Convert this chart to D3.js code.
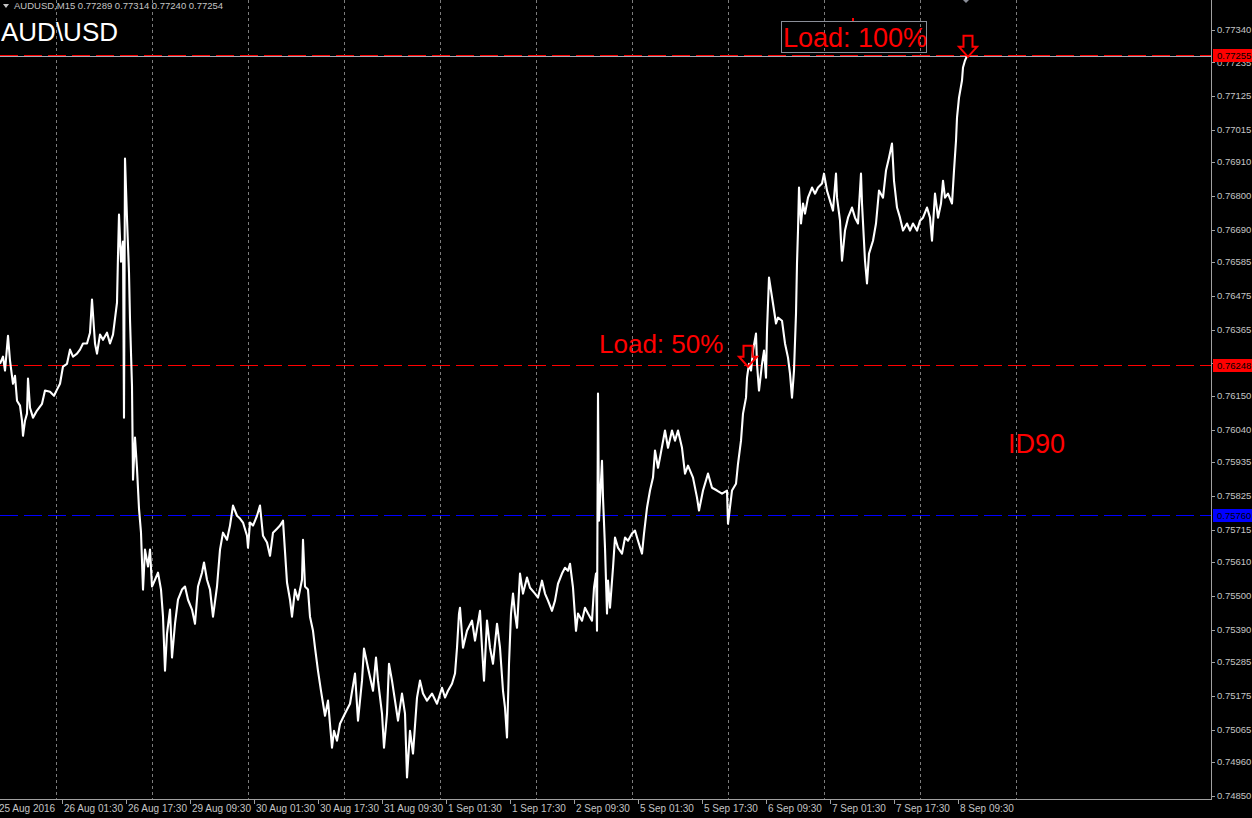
<!DOCTYPE html>
<html>
<head>
<meta charset="utf-8">
<script src="https://cdn.jsdelivr.net/npm/d3@7"></script>
<style>
  body { margin: 0; background: #000; }
  svg { display: block; }
  .ticklbl { font-family: "Liberation Sans", Arial, sans-serif; font-size: 9.5px; fill: #c4c4c4; }
  .timelbl { font-family: "Liberation Sans", Arial, sans-serif; font-size: 10px; fill: #c4c4c4; }
  .big { font-family: "Liberation Sans", Arial, sans-serif; }
</style>
</head>
<body>
<div id="chart"></div>
<script>
// AUDUSD M15 close prices, [bar index, close]
var closes = [[0,0.76254],[3,0.76277],[5,0.76232],[8,0.76345],[10,0.76264],[13,0.76189],[15,0.76215],[17,0.76134],[20,0.76118],[22,0.76069],[23,0.76020],[25,0.76069],[27,0.76092],[28,0.76206],[30,0.76111],[33,0.76079],[37,0.76102],[42,0.76124],[45,0.76167],[50,0.76163],[54,0.76150],[57,0.76170],[60,0.76189],[63,0.76245],[67,0.76254],[70,0.76300],[73,0.76277],[77,0.76287],[80,0.76300],[83,0.76320],[87,0.76320],[90,0.76355],[92,0.76463],[95,0.76320],[97,0.76287],[100,0.76349],[103,0.76332],[107,0.76355],[110,0.76320],[113,0.76349],[117,0.76453],[118,0.76606],[119,0.76739],[121,0.76586],[123,0.76651],[124,0.76079],[125,0.76921],[127,0.76726],[129,0.76550],[130,0.76398],[132,0.76180],[133,0.75877],[135,0.76014],[137,0.75913],[139,0.75783],[141,0.75705],[143,0.75520],[145,0.75650],[148,0.75595],[150,0.75650],[152,0.75530],[155,0.75552],[158,0.75575],[161,0.75520],[163,0.75432],[165,0.75256],[167,0.75377],[170,0.75455],[172,0.75299],[175,0.75409],[178,0.75487],[182,0.75520],[185,0.75530],[188,0.75487],[192,0.75455],[195,0.75409],[198,0.75530],[202,0.75575],[204,0.75608],[207,0.75552],[210,0.75520],[213,0.75432],[217,0.75530],[220,0.75650],[223,0.75705],[227,0.75682],[230,0.75728],[233,0.75793],[237,0.75760],[240,0.75751],[243,0.75738],[247,0.75695],[248,0.75656],[250,0.75738],[253,0.75728],[257,0.75760],[260,0.75793],[263,0.75695],[267,0.75673],[270,0.75630],[273,0.75705],[277,0.75718],[280,0.75728],[283,0.75744],[287,0.75543],[290,0.75487],[292,0.75432],[295,0.75520],[298,0.75487],[302,0.75552],[303,0.75682],[305,0.75530],[308,0.75520],[310,0.75432],[313,0.75386],[315,0.75331],[318,0.75256],[321,0.75191],[325,0.75110],[328,0.75159],[332,0.75006],[334,0.75061],[337,0.75029],[340,0.75084],[345,0.75117],[350,0.75149],[355,0.75247],[358,0.75094],[362,0.75224],[364,0.75328],[368,0.75266],[373,0.75191],[376,0.75299],[378,0.75224],[382,0.75117],[384,0.75006],[387,0.75117],[389,0.75279],[392,0.75224],[395,0.75159],[398,0.75094],[402,0.75182],[405,0.75117],[407,0.74909],[410,0.75061],[413,0.74987],[417,0.75169],[420,0.75224],[423,0.75182],[427,0.75159],[432,0.75182],[437,0.75149],[442,0.75201],[445,0.75169],[448,0.75191],[452,0.75214],[455,0.75247],[457,0.75331],[459,0.75442],[460,0.75461],[463,0.75331],[467,0.75386],[472,0.75419],[475,0.75354],[480,0.75451],[482,0.75331],[484,0.75224],[487,0.75419],[490,0.75331],[493,0.75279],[497,0.75409],[500,0.75331],[503,0.75191],[505,0.75136],[507,0.75039],[509,0.75279],[511,0.75442],[513,0.75507],[515,0.75442],[517,0.75396],[520,0.75572],[523,0.75507],[527,0.75559],[530,0.75526],[535,0.75507],[538,0.75494],[542,0.75549],[545,0.75507],[548,0.75484],[552,0.75451],[555,0.75484],[558,0.75539],[562,0.75572],[565,0.75591],[568,0.75581],[570,0.75604],[573,0.75526],[576,0.75386],[578,0.75442],[582,0.75419],[585,0.75461],[588,0.75442],[592,0.75419],[594,0.75526],[596,0.75572],[597,0.75386],[598,0.76157],[599,0.75744],[602,0.75939],[603,0.75819],[605,0.75656],[607,0.75442],[608,0.75549],[610,0.75461],[613,0.75591],[615,0.75689],[618,0.75656],[622,0.75637],[625,0.75689],[628,0.75679],[632,0.75702],[635,0.75712],[638,0.75679],[642,0.75637],[644,0.75702],[647,0.75786],[650,0.75842],[653,0.75884],[655,0.75972],[658,0.75916],[660,0.75949],[665,0.76037],[668,0.75981],[672,0.76037],[675,0.76004],[678,0.76037],[682,0.75981],[685,0.75897],[688,0.75923],[693,0.75884],[697,0.75819],[699,0.75777],[703,0.75842],[708,0.75897],[712,0.75851],[717,0.75842],[722,0.75832],[727,0.75842],[728,0.75734],[732,0.75842],[736,0.75864],[738,0.75929],[741,0.76004],[743,0.76092],[746,0.76144],[747,0.76209],[749,0.76254],[751,0.76232],[753,0.76297],[756,0.76352],[757,0.76254],[759,0.76167],[762,0.76254],[764,0.76297],[766,0.76209],[767,0.76362],[769,0.76534],[771,0.76492],[773,0.76450],[776,0.76385],[778,0.76404],[782,0.76394],[785,0.76320],[788,0.76274],[790,0.76222],[792,0.76144],[794,0.76232],[796,0.76417],[797,0.76580],[798,0.76687],[799,0.76827],[801,0.76710],[803,0.76775],[805,0.76742],[808,0.76794],[812,0.76827],[815,0.76807],[818,0.76827],[822,0.76840],[824,0.76872],[827,0.76817],[830,0.76784],[833,0.76752],[836,0.76872],[837,0.76794],[840,0.76719],[842,0.76589],[845,0.76687],[848,0.76729],[852,0.76762],[855,0.76729],[858,0.76710],[861,0.76872],[862,0.76775],[865,0.76589],[867,0.76515],[869,0.76612],[873,0.76654],[876,0.76710],[879,0.76817],[883,0.76794],[886,0.76882],[889,0.76924],[892,0.76970],[894,0.76849],[897,0.76762],[900,0.76729],[903,0.76687],[907,0.76710],[910,0.76687],[913,0.76710],[917,0.76687],[920,0.76719],[923,0.76729],[927,0.76762],[930,0.76729],[932,0.76654],[935,0.76807],[938,0.76729],[941,0.76775],[943,0.76849],[945,0.76794],[948,0.76807],[952,0.76775],[954,0.76882],[956,0.76979],[957,0.77054],[959,0.77119],[962,0.77175],[963,0.77217],[965,0.77240],[967,0.77254]];

var priceTicks = [0.77340, 0.77235, 0.77125, 0.77015, 0.76910, 0.76800, 0.76690, 0.76585, 0.76475, 0.76365, 0.76255, 0.76150, 0.76040, 0.75935, 0.75825, 0.75715, 0.75610, 0.75500, 0.75390, 0.75285, 0.75175, 0.75065, 0.74960, 0.74850];

var timeLabels = ["25 Aug 2016", "26 Aug 01:30", "26 Aug 17:30", "29 Aug 09:30", "30 Aug 01:30", "30 Aug 17:30", "31 Aug 09:30", "1 Sep 01:30", "1 Sep 17:30", "2 Sep 09:30", "5 Sep 01:30", "5 Sep 17:30", "6 Sep 09:30", "7 Sep 01:30", "7 Sep 17:30", "8 Sep 09:30"];
var timeBars = [-3, 62, 126, 190, 254, 318, 382, 446, 510, 574, 638, 702, 766, 830, 894, 958];

var gridBars = [56, 152, 248, 344, 440, 536, 632, 728, 824, 920, 1016];

var levelPrices = [0.77255, 0.76248, 0.75760];
var levelColors = ["#ff0000", "#ff0000", "#0000ff"];

var arrowBars = [748, 968];
var arrowPrices = [0.76248, 0.77255];

var symbol = "AUDUSD,M15";
var ohlc = [0.77289, 0.77314, 0.77240, 0.77254];

var width = 1252, height = 818;
var plotRight = 1211, plotBottom = 800;

var svg = d3.select("#chart").append("svg")
    .attr("width", width)
    .attr("height", height);

svg.append("rect").attr("width", width).attr("height", height).attr("fill", "#000");

var xScale = d3.scaleLinear().domain([0, plotRight]).range([0, plotRight]);
var yScale = d3.scaleLinear().domain([0.74850, 0.77340]).range([795.7, 29.7]);

svg.append("clipPath").attr("id", "plot")
  .append("rect").attr("width", plotRight).attr("height", plotBottom);

// vertical grid
svg.append("g").selectAll("line")
    .data(gridBars).enter().append("line")
    .attr("x1", function(d) { return xScale(d) + 0.5; })
    .attr("x2", function(d) { return xScale(d) + 0.5; })
    .attr("y1", 0).attr("y2", plotBottom)
    .attr("stroke", "#7c7c7c")
    .attr("stroke-dasharray", "3,3");

// price level lines
svg.append("g").selectAll("line")
    .data(levelPrices).enter().append("line")
    .attr("x1", 0).attr("x2", plotRight)
    .attr("y1", function(d) { return Math.round(yScale(d)) - 0.5; })
    .attr("y2", function(d) { return Math.round(yScale(d)) - 0.5; })
    .attr("stroke", function(d, i) { return levelColors[i]; })
    .attr("stroke-dasharray", "18,6");

// bid line
svg.append("line")
    .attr("x1", 0).attr("x2", plotRight)
    .attr("y1", Math.round(yScale(ohlc[3])) + 0.5)
    .attr("y2", Math.round(yScale(ohlc[3])) + 0.5)
    .attr("stroke", "#a8a8b4");

// price line
var line = d3.line()
    .x(function(d) { return xScale(d[0]); })
    .y(function(d) { return yScale(d[1]); });

svg.append("path")
    .datum(closes)
    .attr("clip-path", "url(#plot)")
    .attr("fill", "none")
    .attr("stroke", "#fff")
    .attr("stroke-width", 2.1)
    .attr("stroke-linejoin", "round")
    .attr("d", line);

// arrows
svg.append("g").selectAll("path")
    .data(arrowBars).enter().append("path")
    .attr("transform", function(d, i) { return "translate(" + xScale(d) + "," + (yScale(arrowPrices[i]) + 1) + ")"; })
    .attr("d", "M-4.5,-21L4.5,-21L4.5,-10L9,-10L0,0L-9,-10L-4.5,-10Z")
    .attr("fill", "none")
    .attr("stroke", "#ff0000")
    .attr("stroke-width", 2);

// annotations
svg.append("rect")
    .attr("x", 781.5).attr("y", 21.5).attr("width", 145).attr("height", 31)
    .attr("fill", "none").attr("stroke", "#8a8e98");

svg.append("text").attr("class", "big")
    .attr("x", 783).attr("y", 47)
    .attr("font-size", 27).attr("fill", "#ff0000")
    .text("Load: 100%");

svg.append("text").attr("class", "big")
    .attr("x", 599).attr("y", 353)
    .attr("font-size", 26).attr("fill", "#ff0000")
    .text("Load: 50%");

svg.append("text").attr("class", "big")
    .attr("x", 1008).attr("y", 453)
    .attr("font-size", 27).attr("fill", "#ff0000")
    .text("ID90");

svg.append("rect").attr("x", 852).attr("y", 18).attr("width", 2).attr("height", 3).attr("fill", "#ff0000");
svg.append("path").attr("d", "M963,0L969,0L966,3Z").attr("fill", "#8a8e98");

svg.append("text").attr("class", "big")
    .attr("x", 1).attr("y", 41)
    .attr("font-size", 26).attr("fill", "#fff")
    .text("AUD\\USD");

// header
svg.append("path").attr("d", "M3,4L9,4L6,8Z").attr("fill", "#c4c4c4");
svg.append("text").attr("class", "ticklbl")
    .attr("x", 14).attr("y", 9)
    .text(symbol + "  " + ohlc.map(function(v) { return v.toFixed(5); }).join(" "));

// right axis
svg.append("line")
    .attr("x1", plotRight + 0.5).attr("x2", plotRight + 0.5)
    .attr("y1", 0).attr("y2", plotBottom)
    .attr("stroke", "#a0a0a0");

var yAxis = svg.append("g");
yAxis.selectAll("line")
    .data(priceTicks).enter().append("line")
    .attr("x1", plotRight).attr("x2", plotRight + 4)
    .attr("y1", function(d) { return Math.round(yScale(d)) + 0.5; })
    .attr("y2", function(d) { return Math.round(yScale(d)) + 0.5; })
    .attr("stroke", "#a0a0a0");
yAxis.selectAll("text")
    .data(priceTicks).enter().append("text")
    .attr("class", "ticklbl")
    .attr("x", plotRight + 6)
    .attr("y", function(d) { return yScale(d) + 3.5; })
    .text(function(d) { return d.toFixed(5); });

// price tags
var tags = svg.append("g").selectAll("g")
    .data(levelPrices).enter().append("g");
tags.append("rect")
    .attr("x", plotRight + 2).attr("width", width - plotRight - 2)
    .attr("y", function(d) { return Math.round(yScale(d)) - 7; })
    .attr("height", 13)
    .attr("fill", function(d, i) { return levelColors[i]; });
tags.append("text")
    .attr("class", "ticklbl")
    .attr("x", plotRight + 6)
    .attr("y", function(d) { return yScale(d) + 3.5; })
    .style("fill", "#000")
    .text(function(d) { return d.toFixed(5); });

// bottom axis
svg.append("line")
    .attr("x1", 0).attr("x2", plotRight + 1)
    .attr("y1", plotBottom - 0.5).attr("y2", plotBottom - 0.5)
    .attr("stroke", "#a0a0a0");

var xAxis = svg.append("g");
xAxis.selectAll("line")
    .data(timeBars).enter().append("line")
    .attr("x1", function(d) { return xScale(d) + 0.5; })
    .attr("x2", function(d) { return xScale(d) + 0.5; })
    .attr("y1", plotBottom).attr("y2", plotBottom + 4)
    .attr("stroke", "#a0a0a0");
xAxis.selectAll("text")
    .data(timeLabels).enter().append("text")
    .attr("class", "timelbl")
    .attr("x", function(d, i) { return xScale(timeBars[i]) + 2; })
    .attr("y", 812)
    .text(function(d) { return d; });
</script>
</body>
</html>
